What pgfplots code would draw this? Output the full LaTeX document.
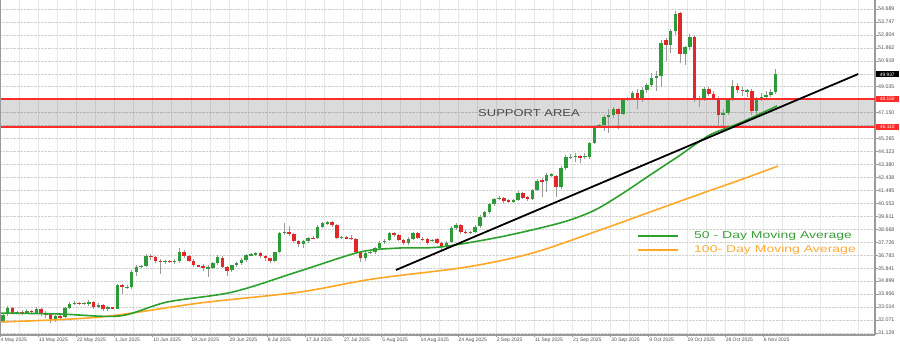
\documentclass[border=0pt]{standalone}
\usepackage{pgfplots}
\pgfplotsset{compat=1.18}
\usepackage{pgfplotstable}
\usepackage{graphicx}
\usepackage{fontspec}
\setmainfont{Liberation Sans}
\definecolor{upc}{HTML}{2E9A3A}
\definecolor{dnc}{HTML}{E02828}
\definecolor{wickc}{HTML}{9A9A9A}
\definecolor{ma50}{HTML}{2CA02C}
\definecolor{ma100}{HTML}{FFA726}
\definecolor{suppred}{HTML}{FF2A2A}
\definecolor{axgray}{HTML}{9A9A9A}
\definecolor{labgray}{HTML}{505050}
\definecolor{gridc}{HTML}{D0D0D0}
\definecolor{vgridc}{HTML}{E8E8E8}
\definecolor{supptext}{HTML}{4A4A4A}
\definecolor{leg50}{HTML}{3A9E3A}
\definecolor{leg100}{HTML}{FFAA33}

\pgfplotstableread{
i o h l c
0 31.95 32.60 31.85 32.45
1 32.50 33.10 32.40 32.95
3 32.60 32.75 32.50 32.66
5 32.58 32.85 32.50 32.72
7 32.62 33.00 32.50 32.85
11 32.15 32.45 31.95 32.35
13 32.30 33.05 32.25 32.95
14 32.95 33.40 32.85 33.25
15 33.25 33.45 33.15 33.31
17 33.25 33.35 33.20 33.30
18 33.30 33.50 33.10 33.36
20 33.05 33.30 32.95 33.15
22 32.85 33.10 32.70 33.00
24 32.90 34.70 32.85 34.60
26 34.45 34.60 34.30 34.51
27 34.50 35.70 34.35 35.55
28 35.55 36.10 35.30 35.95
29 35.95 36.05 35.88 36.01
30 36.00 36.85 35.95 36.75
34 36.34 36.45 36.15 36.40
36 36.30 36.50 36.15 36.37
37 36.35 37.30 36.25 37.05
43 35.86 36.10 35.20 35.92
44 35.88 36.30 35.75 36.20
45 36.20 36.80 36.10 36.65
48 35.70 36.10 35.55 36.05
49 36.05 36.30 35.90 36.20
50 36.20 36.55 36.10 36.45
51 36.45 36.90 36.30 36.80
52 36.80 36.95 36.70 36.86
53 36.86 37.05 36.70 36.93
57 36.35 37.05 36.30 37.00
58 37.00 38.50 36.95 38.40
59 38.40 39.10 38.25 38.50
63 37.60 37.90 37.30 37.80
64 37.80 38.10 37.70 38.05
66 38.02 38.95 37.95 38.85
67 38.85 39.20 38.75 39.10
68 39.10 39.30 39.00 39.17
71 38.05 38.20 37.95 38.10
76 36.60 37.10 36.40 36.98
77 36.98 37.10 36.90 37.04
78 37.02 37.40 36.90 37.30
79 37.30 37.80 37.20 37.70
80 37.72 37.95 37.60 37.85
81 37.90 38.50 37.80 38.40
85 37.65 38.10 37.55 38.00
86 38.00 38.50 37.90 38.40
90 37.85 37.95 37.75 37.91
93 37.45 37.80 37.30 37.65
94 37.75 38.90 37.65 38.80
95 38.80 39.10 38.65 38.95
98 38.42 38.55 38.30 38.47
99 38.50 38.95 38.40 38.85
100 38.90 39.70 38.80 39.60
101 39.60 40.00 39.50 39.90
102 39.90 40.60 39.80 40.50
103 40.50 40.95 40.40 40.85
104 40.88 41.10 40.80 40.95
107 40.72 40.90 40.60 40.78
108 40.80 41.45 40.70 41.30
111 40.90 41.60 40.80 41.50
112 41.55 42.35 41.45 42.20
114 42.15 42.75 41.40 42.60
115 42.60 42.80 42.45 42.66
117 41.75 43.25 41.60 43.10
118 43.10 44.05 43.00 43.90
119 43.90 44.15 43.80 43.96
120 43.92 44.20 43.60 44.02
122 43.93 44.20 43.80 44.00
123 43.90 45.05 43.80 44.95
124 44.95 46.25 44.85 46.10
125 46.15 46.35 46.05 46.22
126 46.25 47.00 45.80 46.85
127 46.85 47.40 45.70 46.95
128 46.95 47.60 46.80 47.40
130 47.05 48.20 46.95 48.05
131 48.10 48.30 48.00 48.17
132 48.15 48.70 48.05 48.55
134 48.05 49.00 47.95 48.80
135 48.80 49.30 48.60 49.15
136 49.15 50.00 49.05 49.70
137 49.70 50.20 48.70 49.80
138 49.80 52.45 49.00 52.25
140 52.05 53.25 51.50 53.10
141 53.10 54.55 52.80 54.35
143 51.40 52.00 50.60 51.90
144 51.90 52.90 51.70 52.65
146 48.05 48.40 47.55 48.20
147 48.20 49.00 48.00 48.85
151 46.95 47.40 46.10 47.15
152 47.15 48.20 47.00 48.10
153 48.10 49.50 48.00 49.10
156 48.70 48.90 48.30 48.78
158 47.25 48.30 46.95 48.15
159 48.15 48.60 48.00 48.30
160 48.30 48.70 48.20 48.45
161 48.45 48.90 48.30 48.65
162 48.65 50.35 48.50 49.94
}\upc

\pgfplotstableread{
i o h l c
2 32.95 33.05 32.50 32.60
4 32.66 32.80 32.45 32.58
6 32.72 32.78 32.62 32.67
8 32.85 32.95 32.40 32.55
9 32.55 32.70 32.20 32.48
10 32.48 32.60 31.85 32.15
12 32.35 32.50 32.10 32.29
16 33.31 33.40 33.15 33.25
19 33.36 33.45 32.90 33.05
21 33.15 33.25 32.70 32.85
23 33.00 33.05 32.85 32.93
25 34.60 34.70 34.00 34.45
31 36.75 36.85 36.45 36.65
32 36.62 36.70 36.20 36.40
33 36.40 36.50 35.40 36.34
35 36.38 36.42 36.22 36.31
38 37.05 37.20 36.60 36.70
39 36.70 36.80 36.30 36.40
40 36.38 36.50 35.90 36.05
41 36.05 36.10 35.95 36.00
42 36.00 36.15 35.65 35.85
46 36.60 36.70 35.85 35.95
47 35.95 36.00 35.30 35.65
54 36.93 37.00 36.60 36.72
55 36.72 36.80 36.40 36.55
56 36.55 36.60 36.20 36.35
60 38.50 38.90 38.15 38.30
61 38.30 38.40 37.65 37.80
62 37.80 37.90 37.35 37.60
65 38.05 38.15 37.95 38.00
69 39.17 39.25 38.85 39.00
70 39.00 39.05 37.95 38.05
72 38.10 38.20 37.95 38.04
73 38.04 38.25 37.90 37.97
74 37.97 38.05 36.90 37.05
75 37.05 37.10 36.30 36.60
82 38.40 38.50 38.10 38.25
83 38.25 38.35 37.80 37.90
84 37.90 38.00 37.55 37.65
87 38.40 38.50 37.95 38.05
88 38.00 38.10 37.85 37.94
89 37.98 38.05 37.55 37.65
91 38.00 38.05 37.60 37.70
92 37.65 37.75 37.15 37.40
96 38.95 39.05 38.35 38.45
97 38.50 38.60 38.30 38.40
105 40.95 41.05 40.60 40.75
106 40.80 40.90 40.55 40.68
109 41.30 41.40 40.85 40.95
110 41.00 41.10 40.75 40.85
113 42.25 42.40 41.00 42.12
116 42.55 42.60 41.00 41.75
121 44.02 44.10 43.50 43.90
129 47.40 47.50 46.00 47.05
133 48.55 48.90 47.40 48.05
139 52.40 52.55 50.90 52.05
142 54.40 54.50 50.80 51.40
145 52.65 52.80 47.90 48.10
148 48.85 49.00 48.35 48.50
149 48.50 48.70 48.10 48.25
150 48.20 48.35 46.10 46.95
154 49.10 49.30 48.60 48.80
155 48.80 49.00 48.40 48.74
157 48.75 48.85 46.95 47.30
}\dnc

\pgfplotsset{candle/.style={only marks, mark=*, mark size=0.01pt, mark options={draw opacity=0, fill opacity=0},
  error bars/.cd, y dir=both, y explicit, error mark=none}}

\begin{document}
\begin{tikzpicture}
\begin{axis}[
  at={(0pt,0pt)}, anchor=south west,
  scale only axis, width=875pt, height=335pt,
  xmin=-0.608, xmax=182.83, ymin=30.984, ymax=55.345,
  axis x line*=bottom, axis y line*=right,
  axis line style={draw=axgray, line width=1.2pt},
  xtick={-0.6,7.4,15.4,23.4,31.4,39.4,47.4,55.4,63.4,71.4,79.4,87.4,95.4,103.4,111.4,119.4,127.4,135.4,143.4,151.4,159.4},
  xticklabels={4 May 2025,13 May 2025,22 May 2025,1 Jun 2025,10 Jun 2025,19 Jun 2025,29 Jun 2025,8 Jul 2025,17 Jul 2025,27 Jul 2025,5 Aug 2025,14 Aug 2025,24 Aug 2025,2 Sep 2025,11 Sep 2025,21 Sep 2025,30 Sep 2025,9 Oct 2025,19 Oct 2025,28 Oct 2025,6 Nov 2025},
  minor xtick={3.4,11.4,...,179.4},
  ytick={31.129,32.071,33.014,33.956,34.899,35.841,36.783,37.726,38.668,39.611,40.553,41.495,42.438,43.380,44.323,45.265,46.207,47.150,48.092,49.035,49.977,50.919,51.862,52.804,53.747,54.689},
  yticklabels={31.129,32.071,33.014,33.956,34.899,35.841,36.783,37.726,38.668,39.611,40.553,41.495,42.438,43.380,44.323,45.265,,47.150,,49.035,,50.919,51.862,52.804,53.747,54.689},
  xmajorgrids, xminorgrids, ymajorgrids,
  major x grid style={vgridc, line width=0.6pt},
  minor x grid style={vgridc, line width=0.6pt},
  major y grid style={gridc, densely dotted, line width=0.6pt},
  tick align=outside, major tick length=2.5pt, minor tick length=0pt,
  tick style={axgray, line width=0.6pt},
  xticklabel style={font=\fontsize{5}{6}\selectfont, text=labgray, anchor=north west, inner sep=0.5pt},
  yticklabel style={font=\fontsize{5.3}{6}\selectfont, text=labgray, anchor=west, inner sep=0.5pt},
]
\fill[black, fill opacity=0.14] (axis cs:-0.608,46.11) rectangle (axis cs:182.83,48.15);
% wicks
\addplot[candle, error bar style={line width=0.8pt, wickc}]
  table[x=i, y expr={(\thisrow{h}+\thisrow{l})/2}, y error expr={(\thisrow{h}-\thisrow{l})/2}] {\upc};
\addplot[candle, error bar style={line width=0.8pt, wickc}]
  table[x=i, y expr={(\thisrow{h}+\thisrow{l})/2}, y error expr={(\thisrow{h}-\thisrow{l})/2}] {\dnc};
% bodies
\addplot[candle, error bar style={line width=3.5pt, upc}]
  table[x=i, y expr={(\thisrow{o}+\thisrow{c})/2}, y error expr={(\thisrow{c}-\thisrow{o})/2}] {\upc};
\addplot[candle, error bar style={line width=3.5pt, dnc}]
  table[x=i, y expr={(\thisrow{o}+\thisrow{c})/2}, y error expr={(\thisrow{o}-\thisrow{c})/2}] {\dnc};
% support lines
\draw[suppred, line width=1.8pt] (axis cs:-0.608,48.15) -- (axis cs:182.83,48.15);
\draw[suppred, line width=1.8pt] (axis cs:-0.608,46.11) -- (axis cs:182.83,46.11);
% moving averages
\addplot[ma100, line width=1.6pt, smooth, tension=0.5] coordinates {
(-0.6,31.93) (20.4,32.29) (41.3,33.31) (62.3,34.11) (77.6,35.06) (97.3,35.93) (111.1,36.95) (125.2,38.62) (135.7,39.93) (146.2,41.24) (154.5,42.25) (162.5,43.27)};
\addplot[ma50, line width=1.6pt, smooth, tension=0.5] coordinates {
(-0.6,32.58) (12,32.51) (24.5,32.37) (34.4,33.38) (48.2,34.11) (62.3,35.64) (74.9,37.02) (83.2,37.31) (91.6,37.38) (104.2,38.11) (116.8,39.13) (123.7,40.0) (129.4,41.16) (135.7,42.62) (142,44.07) (148.2,45.53) (154.5,46.40) (162.3,47.64)};
% trend line
\addplot[black, line width=1.8pt] coordinates {(82.4,35.71) (179.3,49.96)};
\end{axis}
\draw[axgray, line width=1pt] (0.5pt,0pt) -- (0.5pt,335pt);
\node[font=\fontsize{10}{12}\selectfont, text=supptext, anchor=center, inner sep=0pt] at (529pt,222pt) {\scalebox{1.3}[1]{SUPPORT AREA}};
\draw[ma50, line width=2pt] (638pt,99pt) -- (678pt,99pt);
\node[anchor=west, text=leg50, font=\fontsize{10}{12}\selectfont, inner sep=0pt] at (694pt,99pt) {\scalebox{1.4}[1]{50 - Day Moving Average}};
\draw[ma100, line width=2pt] (638pt,85pt) -- (678pt,85pt);
\node[anchor=west, text=leg100, font=\fontsize{10}{12}\selectfont, inner sep=0pt] at (694pt,85pt) {\scalebox{1.4}[1]{100- Day Moving Average}};
\node[fill=black, text=white, font=\fontsize{4.8}{5}\selectfont, inner sep=0pt, minimum width=23pt, minimum height=6pt, anchor=west] at (875.6pt,260.6pt) {49.937};
\node[fill=suppred, text=white, font=\fontsize{4.8}{5}\selectfont, inner sep=0pt, minimum width=23pt, minimum height=6pt, anchor=west] at (875.6pt,236.1pt) {48.150};
\node[fill=suppred, text=white, font=\fontsize{4.8}{5}\selectfont, inner sep=0pt, minimum width=23pt, minimum height=6pt, anchor=west] at (875.6pt,208pt) {46.110};
\pgfresetboundingbox
\path[use as bounding box] (0pt,-8pt) rectangle (900pt,335pt);
\end{tikzpicture}
\end{document}
